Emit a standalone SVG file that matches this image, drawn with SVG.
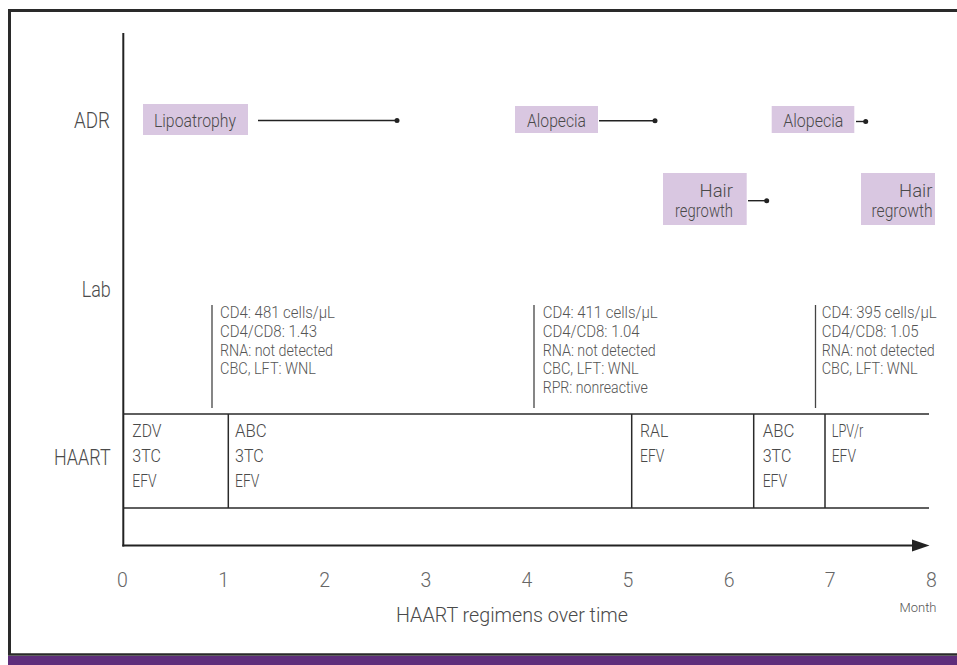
<svg xmlns="http://www.w3.org/2000/svg" width="957" height="665" viewBox="0 0 957 665">
<style>
text{font-family:Roboto,"Liberation Sans",sans-serif;font-weight:300;fill:#4a4a4a}
.row{font-size:22px;text-anchor:end}
.adr{font-size:18.5px}
.adrR{font-size:18.5px;text-anchor:end}
.lab{font-size:16px;fill:#555}
.reg{font-size:17.5px}
.tick{font-size:19.5px;text-anchor:middle;fill:#666}
.box{fill:#d9c7e1}
.ln{stroke:#222;stroke-width:1.4;fill:none}
.grid{stroke:#2a2a2a;stroke-width:1.5;fill:none}
.lv{stroke:#444;stroke-width:1.3}
.dot{fill:#222}
</style>
<g id="frame">
<rect x="8" y="656" width="949" height="9" fill="#5e2d7b"/>
<line x1="9.5" y1="9" x2="9.5" y2="655" stroke="#2a2a2a" stroke-width="3"/>
<line x1="8" y1="10.5" x2="957" y2="10.5" stroke="#2a2a2a" stroke-width="3"/>
<line x1="8" y1="654.5" x2="957" y2="654.5" stroke="#2a2a2a" stroke-width="2.5"/>
</g>
<g id="axes">
<line x1="123.3" y1="33" x2="123.3" y2="546.5" stroke="#222" stroke-width="2"/>
<line x1="122.3" y1="545.5" x2="915" y2="545.5" stroke="#222" stroke-width="2"/>
<polygon points="912,539.5 929.5,545.5 912,551.5" fill="#222"/>
</g>
<g id="row-labels">
<text class="row" x="110" y="128" textLength="36" lengthAdjust="spacingAndGlyphs">ADR</text>
<text class="row" x="110.7" y="297" textLength="29" lengthAdjust="spacingAndGlyphs">Lab</text>
<text class="row" x="110.7" y="465" textLength="56.7" lengthAdjust="spacingAndGlyphs">HAART</text>
</g>
<g id="adr-lipoatrophy">
<rect class="box" x="143" y="104" width="105" height="31"/>
<text class="adr" x="154" y="127" textLength="82" lengthAdjust="spacingAndGlyphs">Lipoatrophy</text>
</g>
<g id="adr-alopecia-1">
<rect class="box" x="515" y="106" width="83" height="27"/>
<text class="adr" x="527" y="127" textLength="59" lengthAdjust="spacingAndGlyphs">Alopecia</text>
</g>
<g id="adr-alopecia-2">
<rect class="box" x="771.7" y="106" width="82.6" height="27"/>
<text class="adr" x="783.3" y="127" textLength="60" lengthAdjust="spacingAndGlyphs">Alopecia</text>
</g>
<g id="adr-hair-1">
<rect class="box" x="663" y="173" width="83.7" height="52"/>
<text class="adrR" x="733" y="196.5">Hair</text>
<text class="adrR" x="733" y="216.5" textLength="58" lengthAdjust="spacingAndGlyphs">regrowth</text>
</g>
<g id="adr-hair-2">
<rect class="box" x="861" y="173" width="74" height="52"/>
<text class="adrR" x="932.5" y="196.5">Hair</text>
<text class="adrR" x="932.5" y="216.5" textLength="61" lengthAdjust="spacingAndGlyphs">regrowth</text>
</g>
<g id="connectors">
<line class="ln" x1="258" y1="120.5" x2="397" y2="120.5"/>
<circle class="dot" cx="397" cy="120.5" r="2.5"/>
<line class="ln" x1="599" y1="120.7" x2="655" y2="120.7"/>
<circle class="dot" cx="655" cy="120.7" r="2.5"/>
<line class="ln" x1="856" y1="121.5" x2="865.7" y2="121.5"/>
<circle class="dot" cx="865.7" cy="121.5" r="2.5"/>
<line class="ln" x1="748" y1="200.7" x2="766.7" y2="200.7"/>
<circle class="dot" cx="766.7" cy="200.7" r="2.5"/>
<line class="lv" x1="212" y1="305" x2="212" y2="408"/>
<line class="lv" x1="534" y1="305" x2="534" y2="408"/>
<line class="lv" x1="815.5" y1="305" x2="815.5" y2="408"/>
</g>
<g id="lab-1">
<text class="lab" x="220" y="318.3" textLength="115" lengthAdjust="spacingAndGlyphs">CD4: 481 cells/μL</text>
<text class="lab" x="220" y="336.9" textLength="97" lengthAdjust="spacingAndGlyphs">CD4/CD8: 1.43</text>
<text class="lab" x="220" y="355.5" textLength="113" lengthAdjust="spacingAndGlyphs">RNA: not detected</text>
<text class="lab" x="220" y="374.1" textLength="96" lengthAdjust="spacingAndGlyphs">CBC, LFT: WNL</text>
</g>
<g id="lab-2">
<text class="lab" x="542.7" y="318.3" textLength="115" lengthAdjust="spacingAndGlyphs">CD4: 411 cells/μL</text>
<text class="lab" x="542.7" y="336.9" textLength="97" lengthAdjust="spacingAndGlyphs">CD4/CD8: 1.04</text>
<text class="lab" x="542.7" y="355.5" textLength="113" lengthAdjust="spacingAndGlyphs">RNA: not detected</text>
<text class="lab" x="542.7" y="374.1" textLength="96" lengthAdjust="spacingAndGlyphs">CBC, LFT: WNL</text>
<text class="lab" x="542.7" y="392.7" textLength="105" lengthAdjust="spacingAndGlyphs">RPR: nonreactive</text>
</g>
<g id="lab-3">
<text class="lab" x="821.7" y="318.3" textLength="115" lengthAdjust="spacingAndGlyphs">CD4: 395 cells/μL</text>
<text class="lab" x="821.7" y="336.9" textLength="97" lengthAdjust="spacingAndGlyphs">CD4/CD8: 1.05</text>
<text class="lab" x="821.7" y="355.5" textLength="113" lengthAdjust="spacingAndGlyphs">RNA: not detected</text>
<text class="lab" x="821.7" y="374.1" textLength="96" lengthAdjust="spacingAndGlyphs">CBC, LFT: WNL</text>
</g>
<g id="haart-grid">
<line class="grid" x1="123" y1="414" x2="929" y2="414"/>
<line class="grid" x1="123" y1="508" x2="929" y2="508"/>
<line class="grid" x1="228.3" y1="414" x2="228.3" y2="508"/>
<line class="grid" x1="631.7" y1="414" x2="631.7" y2="508"/>
<line class="grid" x1="753.7" y1="414" x2="753.7" y2="508"/>
<line class="grid" x1="825" y1="414" x2="825" y2="508"/>
</g>
<g id="regimen-1">
<text class="reg" x="132.3" y="436.7" textLength="29.3" lengthAdjust="spacingAndGlyphs">ZDV</text>
<text class="reg" x="132.3" y="462" textLength="28.7" lengthAdjust="spacingAndGlyphs">3TC</text>
<text class="reg" x="132.3" y="487.3" textLength="24.3" lengthAdjust="spacingAndGlyphs">EFV</text>
</g>
<g id="regimen-2">
<text class="reg" x="235" y="436.7" textLength="31.7" lengthAdjust="spacingAndGlyphs">ABC</text>
<text class="reg" x="235" y="462" textLength="28.7" lengthAdjust="spacingAndGlyphs">3TC</text>
<text class="reg" x="235" y="487.3" textLength="24.3" lengthAdjust="spacingAndGlyphs">EFV</text>
</g>
<g id="regimen-3">
<text class="reg" x="640" y="436.7" textLength="28.3" lengthAdjust="spacingAndGlyphs">RAL</text>
<text class="reg" x="640" y="462" textLength="24.3" lengthAdjust="spacingAndGlyphs">EFV</text>
</g>
<g id="regimen-4">
<text class="reg" x="762.7" y="436.7" textLength="31.7" lengthAdjust="spacingAndGlyphs">ABC</text>
<text class="reg" x="762.7" y="462" textLength="28.7" lengthAdjust="spacingAndGlyphs">3TC</text>
<text class="reg" x="762.7" y="487.3" textLength="24.3" lengthAdjust="spacingAndGlyphs">EFV</text>
</g>
<g id="regimen-5">
<text class="reg" x="831.7" y="436.7" textLength="31.7" lengthAdjust="spacingAndGlyphs">LPV/r</text>
<text class="reg" x="831.7" y="462" textLength="24.3" lengthAdjust="spacingAndGlyphs">EFV</text>
</g>
<g id="time-axis-labels">
<text class="tick" x="122.5" y="587">0</text>
<text class="tick" x="223.6" y="587">1</text>
<text class="tick" x="324.7" y="587">2</text>
<text class="tick" x="425.8" y="587">3</text>
<text class="tick" x="526.9" y="587">4</text>
<text class="tick" x="628" y="587">5</text>
<text class="tick" x="729.1" y="587">6</text>
<text class="tick" x="830.2" y="587">7</text>
<text class="tick" x="931.3" y="587">8</text>
<text x="918" y="612" style="font-size:13px;text-anchor:middle;fill:#555">Month</text>
<text x="512" y="622" style="font-size:20px;text-anchor:middle" textLength="232" lengthAdjust="spacingAndGlyphs">HAART regimens over time</text>
</g>
</svg>
